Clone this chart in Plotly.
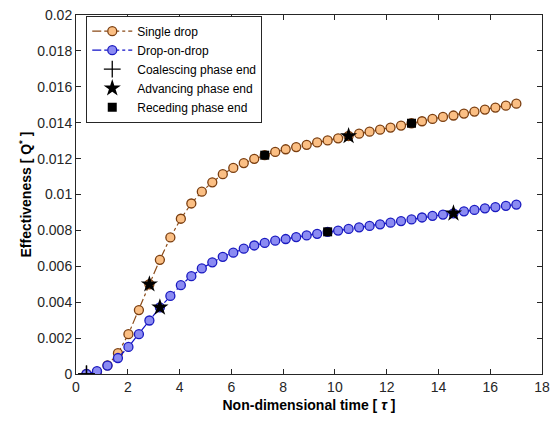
import plotly.graph_objects as go

# Non-dimensional time samples (tau)
tau = [0.405, 0.81, 1.215, 1.62, 2.025, 2.43, 2.835, 3.24, 3.645, 4.05,
       4.455, 4.86, 5.265, 5.67, 6.075, 6.48, 6.885, 7.29, 7.695, 8.1,
       8.505, 8.91, 9.315, 9.72, 10.125, 10.53, 10.935, 11.34, 11.745, 12.15,
       12.555, 12.96, 13.365, 13.77, 14.175, 14.58, 14.985, 15.39, 15.795, 16.2,
       16.605, 17.01]

# Effectiveness Q* for the single drop case
q_single = [0.0, 0.00012, 0.00048, 0.00116, 0.00222, 0.00356, 0.0050, 0.00636, 0.00761, 0.00865,
            0.00950, 0.01016, 0.01068, 0.01113, 0.01148, 0.01175, 0.01199, 0.01219, 0.01237, 0.01252,
            0.01264, 0.01277, 0.01290, 0.01301, 0.01313, 0.01326, 0.01339, 0.01350, 0.01361, 0.01373,
            0.01384, 0.01397, 0.01408, 0.01421, 0.01432, 0.01440, 0.01451, 0.01462, 0.01473, 0.01484,
            0.01495, 0.01506]

# Effectiveness Q* for the drop-on-drop case
q_dod = [0.0, 0.00016, 0.00047, 0.00089, 0.00151, 0.00222, 0.00298, 0.00371, 0.00435, 0.00495,
         0.00545, 0.00588, 0.00622, 0.00653, 0.00676, 0.00698, 0.00716, 0.00730, 0.00743, 0.00752,
         0.00763, 0.00772, 0.00781, 0.00792, 0.00799, 0.00808, 0.00817, 0.00825, 0.00834, 0.00843,
         0.00852, 0.00861, 0.00872, 0.00881, 0.00888, 0.00895, 0.00906, 0.00914, 0.00923, 0.00930,
         0.00937, 0.00944]

# Sample indices where each phase ends
coalesce_single = [0]
coalesce_dod = [0]
advance_single = [6, 25]
advance_dod = [7, 35]
recede_single = [17, 31]
recede_dod = [23]

x_ticks = [0, 2, 4, 6, 8, 10, 12, 14, 16, 18]
y_ticks = [0, 0.002, 0.004, 0.006, 0.008, 0.01, 0.012, 0.014, 0.016, 0.018, 0.02]
y_tick_text = ["0", "0.002", "0.004", "0.006", "0.008", "0.01", "0.012", "0.014", "0.016", "0.018", "0.02"]

FONT = "Liberation Sans, Arial, sans-serif"
AX = "#262626"


def pick(values, idx):
    return [values[i] for i in idx]


fig = go.Figure()

fig.add_trace(go.Scatter(
    x=tau, y=q_single, mode="lines+markers", name="Single drop",
    line=dict(color="#8a4a17", width=1.2, dash="dashdot"),
    marker=dict(symbol="circle", size=9, color="#fbbf84",
                line=dict(color="#7a3e10", width=1.3)),
))
fig.add_trace(go.Scatter(
    x=tau, y=q_dod, mode="lines+markers", name="Drop-on-drop",
    line=dict(color="#1010c8", width=1.2, dash="dashdot"),
    marker=dict(symbol="circle", size=9, color="#8b8bf2",
                line=dict(color="#1a1ac0", width=1.3)),
))

# Phase-end markers
fig.add_trace(go.Scatter(
    x=pick(tau, coalesce_single) + pick(tau, coalesce_dod),
    y=pick(q_single, coalesce_single) + pick(q_dod, coalesce_dod),
    mode="markers", name="Coalescing phase end",
    marker=dict(symbol="cross-thin", size=12, color="black",
                line=dict(color="black", width=1.3)),
))
fig.add_trace(go.Scatter(
    x=pick(tau, advance_single) + pick(tau, advance_dod),
    y=pick(q_single, advance_single) + pick(q_dod, advance_dod),
    mode="markers", name="Advancing phase end",
    marker=dict(symbol="star", size=13, color="black", line=dict(width=0)),
))
fig.add_trace(go.Scatter(
    x=pick(tau, recede_single) + pick(tau, recede_dod),
    y=pick(q_single, recede_single) + pick(q_dod, recede_dod),
    mode="markers", name="Receding phase end",
    marker=dict(symbol="square", size=9, color="black", line=dict(width=0)),
))

axis_common = dict(
    showline=True, linecolor=AX, linewidth=1, mirror="ticks",
    ticks="inside", ticklen=5, tickcolor=AX, tickwidth=1,
    showgrid=False, zeroline=False, ticklabeloverflow="allow",
    tickfont=dict(family=FONT, size=14, color=AX),
)

fig.update_xaxes(
    range=[0, 18], tickvals=x_ticks,
    title=dict(text="<b>Non-dimensional time [ <i>τ</i> ]</b>",
               font=dict(family=FONT, size=14, color="black"), standoff=6),
    **axis_common,
)
fig.update_yaxes(
    range=[0, 0.02], tickvals=y_ticks, ticktext=y_tick_text,
    title=dict(text="<b>Effectiveness [ Q<sup>*</sup> ]</b>",
               font=dict(family=FONT, size=14, color="black"), standoff=2),
    **axis_common,
)

fig.update_layout(
    width=558, height=425,
    margin=dict(l=76, r=16, t=7, b=51),
    paper_bgcolor="white", plot_bgcolor="white",
    font=dict(family=FONT, size=13, color="black"),
    showlegend=True,
    legend=dict(
        x=0.022, y=0.998, xanchor="left", yanchor="top",
        bgcolor="white", bordercolor=AX, borderwidth=1,
        font=dict(family=FONT, size=12, color="black"),
        tracegroupgap=0, itemwidth=40,
    ),
)

fig.write_html("out.html")
